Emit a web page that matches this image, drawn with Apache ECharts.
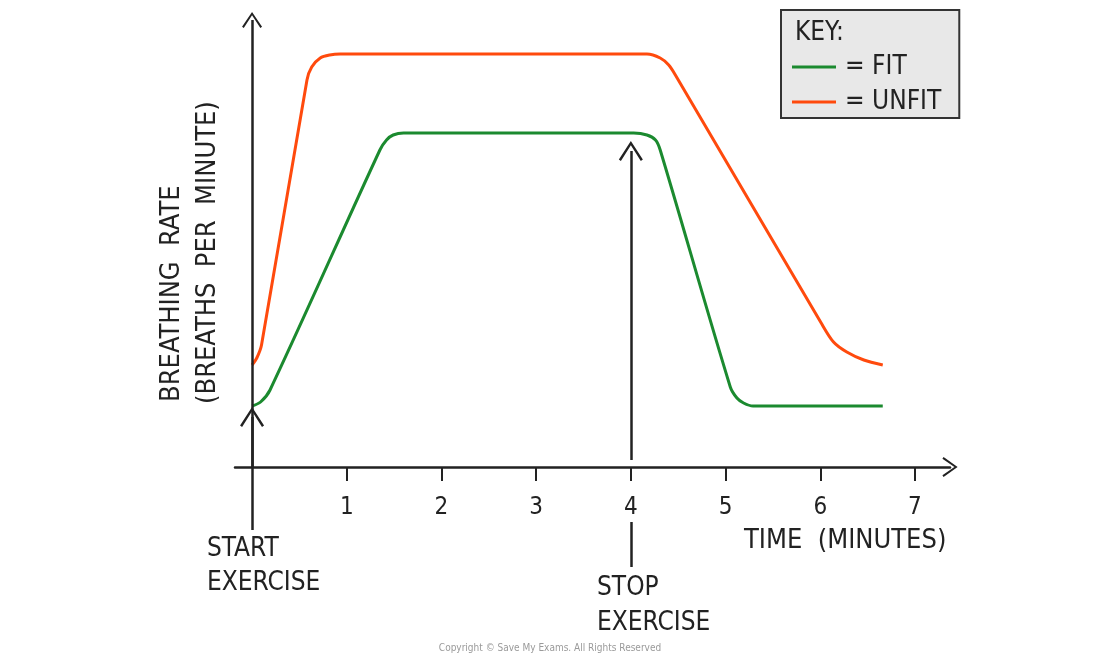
<!DOCTYPE html>
<html>
<head>
<meta charset="utf-8">
<script src="https://cdn.jsdelivr.net/npm/echarts@6/dist/echarts.min.js"></script>
<style>
  html, body { margin: 0; padding: 0; background: #fff; }
  #main { width: 1100px; height: 658px; }
</style>
</head>
<body>
<div id="main"></div>
<script>
// time in minutes, breathing rate in plain units (the picture prints no rate scale)
const fitTime = [0, 0.09, 0.19, 1.35, 1.42, 1.49, 1.60, 4.03, 4.17, 4.26, 4.31, 5.05, 5.12, 5.19, 5.29, 6.66]
const fitRate = [6.1, 6.5, 7.7, 31.7, 32.7, 33.2, 33.4, 33.4, 33.2, 32.7, 31.7, 8.0, 6.9, 6.4, 6.1, 6.1]
const unfitTime = [0, 0.05, 0.10, 0.58, 0.63, 0.72, 0.82, 0.93, 4.17, 4.31, 4.40, 4.47, 6.01, 6.14, 6.28, 6.46, 6.66]
const unfitRate = [10.2, 10.9, 12.2, 38.7, 40.0, 40.9, 41.2, 41.3, 41.3, 40.9, 40.2, 39.2, 14.4, 12.5, 11.5, 10.7, 10.2]
const timeTicks = [1, 2, 3, 4, 5, 6, 7]
const startTime = 0
const stopTime = 4

const FONT = "'Liberation Sans Narrow', 'DejaVu Sans Condensed', 'Roboto', sans-serif"
const INK = '#222'
// open arrow head, tip at the top
const chevron = 'path://M10,0 L20,14 L18.3,15.2 L10,3.2 L1.7,15.2 L0,14 Z'

const chart = echarts.init(document.getElementById('main'))

const toPairs = (xs, ys) => xs.map((x, i) => [x, ys[i]])

const option = {
  animation: false,
  backgroundColor: '#fff',
  title: {
    text: 'KEY:',
    left: 790,
    top: 15,
    textStyle: { fontFamily: FONT, fontSize: 26, fontWeight: 'normal', color: INK }
  },
  legend: {
    orient: 'vertical',
    left: 781,
    top: 10,
    padding: [44, 18, 3, 11],
    icon: 'rect',
    itemWidth: 44,
    itemHeight: 3,
    itemGap: 9,
    backgroundColor: '#e8e8e8',
    borderColor: '#333',
    borderWidth: 2,
    formatter: '= {name}',
    textStyle: { fontFamily: FONT, fontSize: 26, color: INK, padding: [0, 0, 0, 4] },
    data: ['FIT', 'UNFIT']
  },
  grid: { left: 235, right: 150, top: 12, bottom: 86 },
  xAxis: {
    type: 'value',
    min: -0.18,
    max: 7.37,
    splitLine: { show: false },
    axisLine: {
      onZero: true,
      symbol: ['none', chevron],
      symbolSize: [20, 16],
      lineStyle: { color: INK, width: 2.5 }
    },
    axisTick: {
      customValues: timeTicks,
      length: 14,
      lineStyle: { color: INK, width: 2 }
    },
    axisLabel: {
      customValues: timeTicks,
      margin: -76,
      fontFamily: FONT,
      fontSize: 24,
      color: INK
    }
  },
  yAxis: {
    type: 'value',
    min: -10.5,
    max: 45.5,
    show: false
  },
  series: [
    {
      name: 'FIT',
      type: 'line',
      data: toPairs(fitTime, fitRate),
      showSymbol: false,
      symbol: 'none',
      smooth: 0.3,
      clip: false,
      z: 3,
      lineStyle: { color: '#1b8a2f', width: 3, join: 'round' },
      itemStyle: { color: '#1b8a2f' }
    },
    {
      name: 'UNFIT',
      type: 'line',
      data: toPairs(unfitTime, unfitRate),
      showSymbol: false,
      symbol: 'none',
      smooth: 0.3,
      clip: false,
      z: 3,
      lineStyle: { color: '#ff4a0d', width: 3, join: 'round' },
      itemStyle: { color: '#ff4a0d' }
    },
    {
      // axis and the two exercise arrows
      name: 'arrows',
      type: 'line',
      data: [],
      clip: false,
      markLine: {
        silent: true,
        animation: false,
        label: { show: false },
        lineStyle: { color: INK, width: 2.5, type: 'solid' },
        symbol: ['none', chevron],
        symbolSize: [20, 16],
        data: [
          [{ coord: [startTime, 0] }, { coord: [startTime, 44.7] }],
          [{ coord: [startTime, -6.3], symbolSize: [24, 20] }, { coord: [startTime, 5.0], symbolSize: [24, 20] }],
          [{ coord: [stopTime, 0.7] }, { coord: [stopTime, 31.6], symbolSize: [24, 20] }],
          [{ coord: [stopTime, -5.5], symbol: 'none' }, { coord: [stopTime, -10], symbol: 'none' }]
        ]
      }
    }
  ],
  graphic: [
    {
      type: 'text', x: 172, y: 402, rotation: Math.PI / 2,
      style: { text: 'BREATHING  RATE', font: '27px ' + FONT, fill: INK, align: 'left', verticalAlign: 'middle' }
    },
    {
      type: 'text', x: 208, y: 404, rotation: Math.PI / 2,
      style: { text: '(BREATHS  PER  MINUTE)', font: '27px ' + FONT, fill: INK, align: 'left', verticalAlign: 'middle' }
    },
    {
      type: 'text', x: 207, y: 566,
      style: { text: 'START\nEXERCISE', font: '26px ' + FONT, lineHeight: 34, fill: INK, align: 'left', verticalAlign: 'middle' }
    },
    {
      type: 'text', x: 597, y: 606,
      style: { text: 'STOP\nEXERCISE', font: '26px ' + FONT, lineHeight: 35, fill: INK, align: 'left', verticalAlign: 'middle' }
    },
    {
      type: 'text', x: 744, y: 541,
      style: { text: 'TIME  (MINUTES)', font: '27px ' + FONT, fill: INK, align: 'left', verticalAlign: 'middle' }
    },
    {
      type: 'text', x: 550, y: 648,
      style: { text: 'Copyright © Save My Exams. All Rights Reserved', font: '10px ' + FONT, fill: '#9a9a9a', align: 'center', verticalAlign: 'middle' }
    }
  ]
}

chart.setOption(option)
</script>
</body>
</html>
